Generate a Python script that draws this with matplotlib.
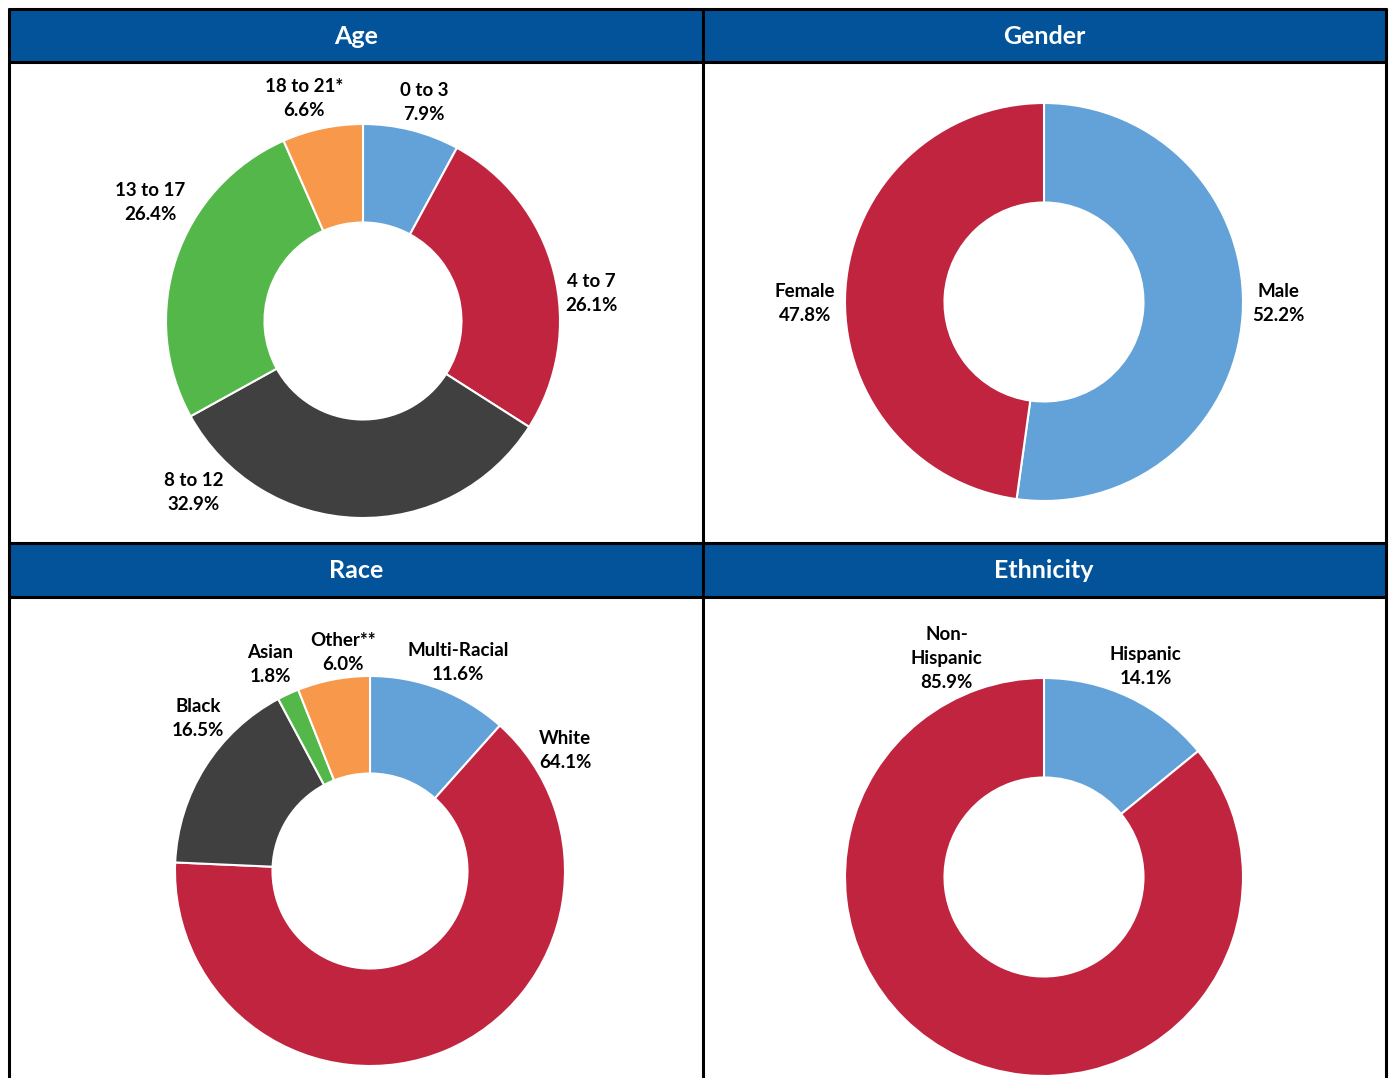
import matplotlib.pyplot as plt
import matplotlib.patches as mpatches

plt.rcParams['font.family'] = ['Lato', 'DejaVu Sans']

# data
age_labels = ['0 to 3', '4 to 7', '8 to 12', '13 to 17', '18 to 21*']
age_values = [7.9, 26.1, 32.9, 26.4, 6.6]

gender_labels = ['Male', 'Female']
gender_values = [52.2, 47.8]

race_labels = ['Multi-Racial', 'White', 'Black', 'Asian', 'Other**']
race_values = [11.6, 64.1, 16.5, 1.8, 6.0]

eth_labels = ['Hispanic', 'Non-\nHispanic']
eth_values = [14.1, 85.9]

blue = '#62A2D8'
red = '#C0243F'
dark = '#404040'
green = '#53B74A'
orange = '#F7984B'
header = '#02539A'

W, H = 1392, 1078
fig = plt.figure(figsize=(W / 100, H / 100), dpi=100)
bg = fig.add_axes([0, 0, 1, 1])
bg.set_xlim(0, W)
bg.set_ylim(H, 0)
bg.axis('off')

# header bars
for (x0, x1) in [(9, 703), (703, 1386)]:
    for (y0, y1) in [(9, 62), (543, 597)]:
        bg.add_patch(mpatches.Rectangle((x0, y0), x1 - x0, y1 - y0, color=header, lw=0))
hkw = dict(color='white', fontsize=18, fontweight='bold', ha='center', va='center')
bg.text(356, 36, 'Age', **hkw)
bg.text(1044, 36, 'Gender', **hkw)
bg.text(356, 571, 'Race', **hkw)
bg.text(1044, 571, 'Ethnicity', **hkw)

# grid lines
lw = 2.2
for y in [9, 62, 543, 597]:
    bg.plot([8, 1387], [y, y], color='black', lw=lw, solid_capstyle='butt')
for x in [9, 703, 1386]:
    bg.plot([x, x], [8, H], color='black', lw=lw, solid_capstyle='butt')


def donut(cx, cy, r, values, labels, colors, label_pos):
    ax = fig.add_axes([(cx - r) / W, 1 - (cy + r) / H, 2 * r / W, 2 * r / H])
    ax.pie(values, colors=colors, startangle=90, counterclock=False, radius=1,
           wedgeprops=dict(width=0.5, edgecolor='white', linewidth=1.5))
    ax.set_xlim(-1, 1)
    ax.set_ylim(-1, 1)
    ax.set_aspect('equal')
    ax.axis('off')
    for lab, v, (lx, ly) in zip(labels, values, label_pos):
        ax.text(lx, ly, f'{lab}\n{v:.1f}%', ha='center', va='center', fontsize=13.5,
                fontweight='bold', linespacing=1.5, clip_on=False, color='black')


donut(363, 321, 197, age_values, age_labels, [blue, red, dark, green, orange],
      [(0.31, 1.11), (1.16, 0.14), (-0.86, -0.87), (-1.08, 0.60), (-0.30, 1.13)])
donut(1044, 302, 199, gender_values, gender_labels, [blue, red],
      [(1.18, -0.01), (-1.20, -0.01)])
donut(370, 871, 195, race_values, race_labels, [blue, red, dark, green, orange],
      [(0.45, 1.07), (1.00, 0.62), (-0.88, 0.78), (-0.51, 1.06), (-0.14, 1.12)])
donut(1044, 877, 199, eth_values, eth_labels, [blue, red],
      [(0.51, 1.06), (-0.49, 1.10)])

fig.savefig('out.png', dpi=100)
